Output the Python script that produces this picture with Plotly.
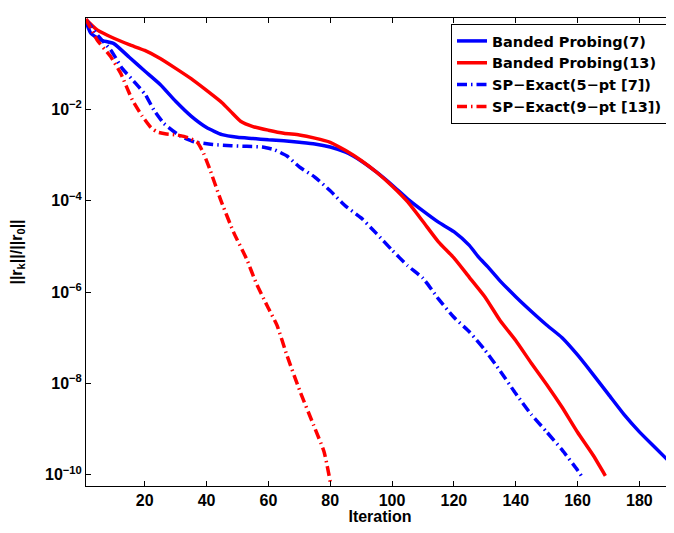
import plotly.graph_objects as go

# ---------------- data ----------------
bp7_x = [1, 2.5, 5.7, 10, 15, 20, 25, 30, 35, 40, 45, 50, 55, 60, 65, 70, 75, 80, 85, 90,
         95, 100, 105, 110, 115, 120, 125, 128, 131, 135, 140, 145, 150, 155, 160, 165,
         170, 175, 180, 185, 191]
bp7_y = [8.3e-1, 4.7e-1, 3.3e-1, 2.75e-1, 1.38e-1, 6.9e-2, 3.5e-2, 1.5e-2, 7.1e-3, 4.0e-3,
         2.8e-3, 2.45e-3, 2.3e-3, 2.15e-3, 2.05e-3, 1.9e-3, 1.75e-3, 1.5e-3, 1.15e-3, 7.4e-4,
         4.2e-4, 2.2e-4, 1.1e-4, 6.0e-5, 3.4e-5, 2.1e-5, 1.05e-5, 5.8e-6, 3.55e-6, 1.74e-6,
         7.9e-7, 3.8e-7, 1.9e-7, 1.0e-7, 4.2e-8, 1.58e-8, 5.75e-9, 2.1e-9, 8.7e-10,
         4.0e-10, 1.58e-10]

bp13_x = [1, 4.6, 10, 15, 20, 25, 30, 35, 40, 45, 48, 51, 55, 60, 65, 70, 75, 80, 85, 90,
          95, 100, 105, 110, 115, 120, 125, 130, 135, 140, 145, 150, 155, 160, 165, 169]
bp13_y = [9.3e-1, 5.5e-1, 3.6e-1, 2.6e-1, 1.95e-1, 1.3e-1, 7.9e-2, 4.7e-2, 2.6e-2, 1.4e-2,
          8.7e-3, 5.5e-3, 4.2e-3, 3.5e-3, 3.0e-3, 2.75e-3, 2.35e-3, 1.9e-3, 1.25e-3, 7.6e-4,
          4.2e-4, 2.1e-4, 9.5e-5, 3.5e-5, 1.26e-5, 5.6e-6, 2.1e-6, 7.9e-7, 2.35e-7, 8.7e-8,
          2.8e-8, 9.5e-9, 3.0e-9, 8.5e-10, 2.7e-10, 9.5e-11]

sp5_x = [1, 5, 9, 12.7, 16.5, 20.2, 22.9, 26.1, 31.5, 36, 42, 48, 53, 58, 62, 66, 70, 75,
         80, 85, 90, 95, 100, 105, 110, 115, 120, 125, 130, 135, 140, 145, 150, 155, 160,
         161.5]
sp5_y = [9.3e-1, 4.0e-1, 2.0e-1, 7.9e-2, 4.1e-2, 2.1e-2, 9.8e-3, 5.0e-3, 2.6e-3, 1.95e-3,
         1.7e-3, 1.6e-3, 1.55e-3, 1.5e-3, 1.3e-3, 9.5e-4, 5.5e-4, 3.3e-4, 1.65e-4, 7.6e-5,
         4.2e-5, 1.9e-5, 8.3e-6, 3.8e-6, 2.0e-6, 7.1e-7, 2.8e-7, 1.35e-7, 5.4e-8, 1.86e-8,
         6.0e-9, 2.1e-9, 8.7e-10, 3.5e-10, 1.26e-10, 8.9e-11]

sp9_x = [1, 4.6, 8.9, 12.2, 16, 19.2, 22, 24, 27, 30.5, 34, 37, 39, 41, 44.5, 48.8, 53, 56,
         59.6, 62.8, 66, 70.3, 74.6, 78, 80]
sp9_y = [9.5e-1, 3.3e-1, 1.45e-1, 6.2e-2, 1.6e-2, 7.1e-3, 4.0e-3, 3.2e-3, 2.9e-3, 2.75e-3,
         2.4e-3, 1.9e-3, 1.1e-3, 5.0e-4, 1.07e-4, 2.0e-5, 5.2e-6, 1.6e-6, 5.0e-7, 1.86e-7,
         4.1e-8, 6.5e-9, 1.23e-9, 3.2e-10, 7.1e-11]

names = ["Banded Probing(7)", "Banded Probing(13)", "SP\u2212Exact(5\u2212pt [7])",
         "SP\u2212Exact(9\u2212pt [13])"]

x_ticks = [20, 40, 60, 80, 100, 120, 140, 160, 180]
y_tickvals = [1, 1e-2, 1e-4, 1e-6, 1e-8, 1e-10]
y_ticktext = ["10<sup>0</sup>", "10<sup>\u22122</sup>", "10<sup>\u22124</sup>",
              "10<sup>\u22126</sup>", "10<sup>\u22128</sup>", "10<sup>\u221210</sup>"]

# ---------------- figure ----------------
FONT = "Liberation Sans, Arial, Helvetica, sans-serif"
LEGFONT = "DejaVu Sans, Liberation Sans, sans-serif"
BLUE = "#0000ff"
RED = "#ff0000"
DASHDOT = "10px,4px,1.5px,4px"
SHAPE = dict(shape="spline", smoothing=0.5)

fig = go.Figure()
fig.add_trace(go.Scatter(x=bp7_x, y=bp7_y, mode="lines", name=names[0],
                         line=dict(color=BLUE, width=3.5, **SHAPE)))
fig.add_trace(go.Scatter(x=bp13_x, y=bp13_y, mode="lines", name=names[1],
                         line=dict(color=RED, width=3.5, **SHAPE)))
fig.add_trace(go.Scatter(x=sp5_x, y=sp5_y, mode="lines", name=names[2],
                         line=dict(color=BLUE, width=3.5, dash=DASHDOT, **SHAPE)))
fig.add_trace(go.Scatter(x=sp9_x, y=sp9_y, mode="lines", name=names[3],
                         line=dict(color=RED, width=3.5, dash=DASHDOT, **SHAPE)))

# the page body has an 8px margin, so the figure is offset by 8px
fig.update_layout(
    width=666, height=517,
    margin=dict(l=78, r=0, t=10, b=37),
    paper_bgcolor="white", plot_bgcolor="white",
    font=dict(family=FONT, size=16, color="black", weight="bold"),
    showlegend=True,
    legend=dict(x=0.9898, y=0.9872, xanchor="right", yanchor="top",
                bordercolor="black", borderwidth=1, bgcolor="white",
                font=dict(family=LEGFONT, size=14.5, color="black", weight="bold"),
                tracegroupgap=0, itemwidth=30),
    xaxis=dict(range=[1, 191.2], tickvals=x_ticks, ticks="inside", ticklen=5,
               tickcolor="black", showline=True, linecolor="black", linewidth=1,
               mirror="ticks", showgrid=False, zeroline=False,
               tickfont=dict(family=FONT, size=16, weight="bold"),
               title=dict(text="Iteration", standoff=5,
                          font=dict(family=FONT, size=16, weight="bold"))),
    yaxis=dict(type="log", range=[-10.246, 0], tickvals=y_tickvals, ticktext=y_ticktext,
               ticks="inside", ticklen=5, tickcolor="black", showline=True,
               linecolor="black", linewidth=1, showgrid=False, zeroline=False,
               tickfont=dict(family=FONT, size=16, weight="bold"),
               title=dict(text="||r<sub>k</sub>||/||r<sub>0</sub>||", standoff=22,
                          font=dict(family=FONT, size=16, weight="bold"))),
)

fig.write_html("out.html")
